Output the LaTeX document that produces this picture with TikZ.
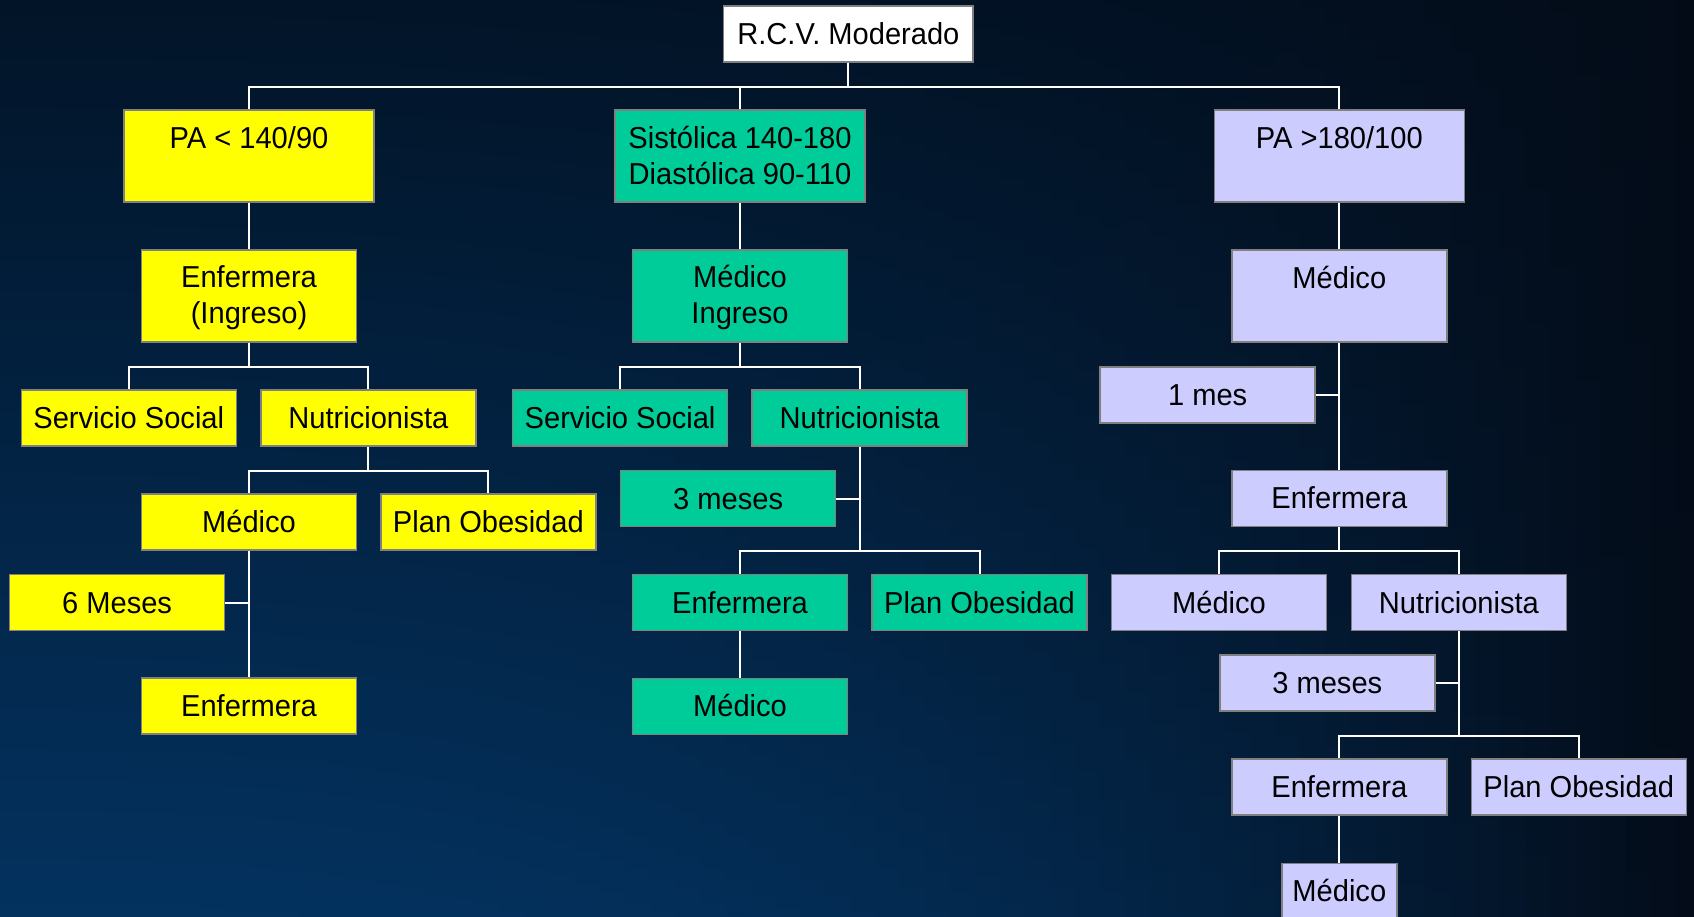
\documentclass[tikz,border=0pt]{standalone}
\usepackage{fontspec}
\setmainfont{Liberation Sans}[FakeStretch=0.96]
\definecolor{bgTop}{HTML}{021428}
\definecolor{bgBot}{HTML}{03325F}
\definecolor{bgDark}{HTML}{030B17}
\definecolor{cYel}{HTML}{FFFF00}
\definecolor{cGrn}{HTML}{00CC99}
\definecolor{cPur}{HTML}{CCCCFF}
\definecolor{cBord}{HTML}{808080}
\newcommand\lstrut{\rule[-4pt]{0pt}{29pt}}
\begin{document}
\begin{tikzpicture}[x=1pt,y=-1pt,
  box/.style={draw=cBord, line width=1.5pt, inner sep=0pt, align=center,
    minimum width=215pt, minimum height=56pt,
    font=\fontsize{30.3}{35.5}\selectfont, text=black},
  tall/.style={box, minimum height=92pt},
  wide/.style={tall, minimum width=250pt},
  yel/.style={fill=cYel}, grn/.style={fill=cGrn}, pur/.style={fill=cPur}, wht/.style={fill=white},
  conn/.style={draw=white, line width=2pt}]
\useasboundingbox (0,0) rectangle (1694,917);
\foreach \i in {0,...,67}{
  \pgfmathsetmacro\p{100*((\i+0.5)/68)^2.6}
  \pgfmathsetmacro\xa{\i*25}
  \pgfmathsetmacro\xb{\i*25+25.8}
  \shade[top color=bgDark!\p!bgTop, bottom color=bgDark!\p!bgBot] (\xa,0) rectangle (\xb,917);
}

% root
\node[box,wht,minimum width=249.5pt] (rcv) at (848.4,34) {\lstrut R.C.V. Moderado};
% level 1
\node[wide,yel] (pa1) at (249,156) {\lstrut PA < 140/90\\\lstrut};
\node[wide,grn] (sis) at (740,156) {\lstrut Sistólica 140-180\\\lstrut Diastólica 90-110};
\node[wide,pur] (pa3) at (1339.3,156) {\lstrut PA >180/100\\\lstrut};
% level 2
\node[tall,yel] (enf1) at (249,296) {\lstrut Enfermera\\\lstrut (Ingreso)};
\node[tall,grn] (medi2) at (740,296) {\lstrut Médico\\\lstrut Ingreso};
\node[tall,pur] (med3) at (1339.3,296) {\lstrut Médico\\\lstrut};
% level 3
\node[box,yel] (ss1) at (128.8,418) {\lstrut Servicio Social};
\node[box,yel] (nut1) at (368.4,418) {\lstrut Nutricionista};
\node[box,grn] (ss2) at (620.1,418) {\lstrut Servicio Social};
\node[box,grn] (nut2) at (859.6,418) {\lstrut Nutricionista};
\node[box,pur] (mes1) at (1207.7,395) {\lstrut 1 mes};
% level 4
\node[box,grn] (mes3g) at (728.2,498.7) {\lstrut 3 meses};
\node[box,pur] (enf3) at (1339.3,498.4) {\lstrut Enfermera};
\node[box,yel] (med1) at (249,522) {\lstrut Médico};
\node[box,yel] (plan1) at (488.4,522) {\lstrut Plan Obesidad};
\node[box,yel] (mes6) at (117.1,602.5) {\lstrut 6 Meses};
\node[box,grn] (enf2) at (740,602.7) {\lstrut Enfermera};
\node[box,grn] (plan2) at (979.5,602.7) {\lstrut Plan Obesidad};
\node[box,pur] (med3b) at (1219,602.5) {\lstrut Médico};
\node[box,pur] (nut3) at (1458.9,602.5) {\lstrut Nutricionista};
\node[box,yel] (enf1b) at (249,706) {\lstrut Enfermera};
\node[box,grn] (med2b) at (740,706.3) {\lstrut Médico};
\node[box,pur] (mes3p) at (1327.3,683.2) {\lstrut 3 meses};
\node[box,pur] (enf3b) at (1339.3,786.8) {\lstrut Enfermera};
\node[box,pur] (plan3) at (1578.8,786.8) {\lstrut Plan Obesidad};
\node[box,pur,minimum width=115pt] (med3c) at (1339.3,891.3) {\lstrut Médico};

% connectors: root
\draw[conn] (rcv.south) -- ++(0,24) -| (pa1.north);
\draw[conn] (rcv.south) -- ++(0,24) -| (sis.north);
\draw[conn] (rcv.south) -- ++(0,24) -| (pa3.north);
% left column
\draw[conn] (pa1.south) -- (enf1.north);
\draw[conn] (enf1.south) -- ++(0,24) -| (ss1.north);
\draw[conn] (enf1.south) -- ++(0,24) -| (nut1.north);
\draw[conn] (nut1.south) -- ++(0,24) -| (med1.north);
\draw[conn] (nut1.south) -- ++(0,24) -| (plan1.north);
\draw[conn] (med1.south) -- (enf1b.north);
\draw[conn] (mes6.east) -- (mes6.east -| med1.south);
% middle column
\draw[conn] (sis.south) -- (medi2.north);
\draw[conn] (medi2.south) -- ++(0,24) -| (ss2.north);
\draw[conn] (medi2.south) -- ++(0,24) -| (nut2.north);
\draw[conn] (nut2.south) -- ++(0,104) -| (enf2.north);
\draw[conn] (nut2.south) -- ++(0,104) -| (plan2.north);
\draw[conn] (mes3g.east) -- (mes3g.east -| nut2.south);
\draw[conn] (enf2.south) -- (med2b.north);
% right column
\draw[conn] (pa3.south) -- (med3.north);
\draw[conn] (med3.south) -- (enf3.north);
\draw[conn] (mes1.east) -- (mes1.east -| med3.south);
\draw[conn] (enf3.south) -- ++(0,24) -| (med3b.north);
\draw[conn] (enf3.south) -- ++(0,24) -| (nut3.north);
\draw[conn] (nut3.south) -- ++(0,104.5) -| (enf3b.north);
\draw[conn] (nut3.south) -- ++(0,104.5) -| (plan3.north);
\draw[conn] (mes3p.east) -- (mes3p.east -| nut3.south);
\draw[conn] (enf3b.south) -- (med3c.north);
\end{tikzpicture}
\end{document}
